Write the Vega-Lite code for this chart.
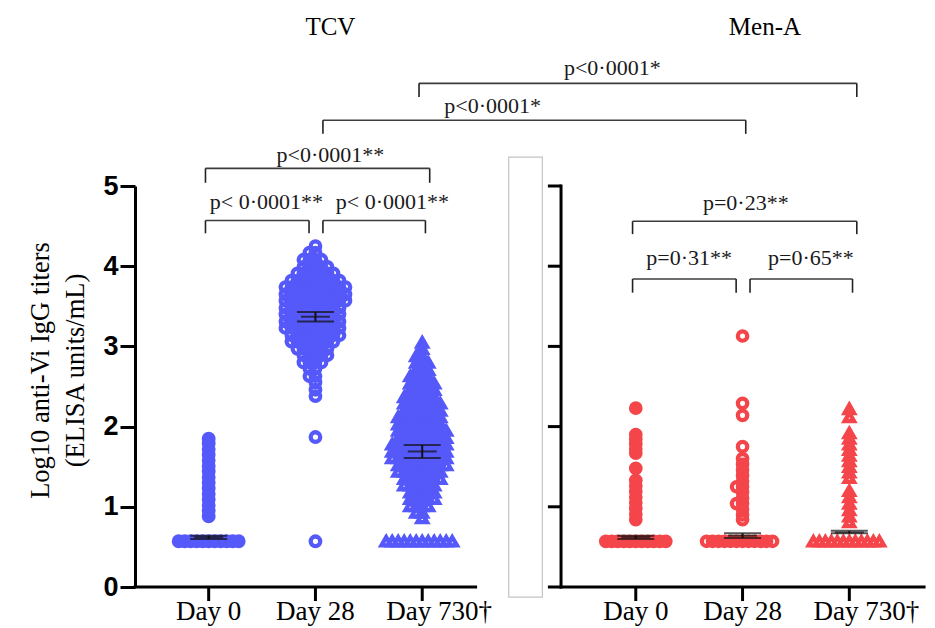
{
"$schema": "https://vega.github.io/schema/vega-lite/v6.json",
"autosize": {"type": "none"},
"padding": {"left": 135, "top": 186, "right": 12, "bottom": 41},
"width": 788,
"height": 401,
"background": "white",
"config": {"view": {"stroke": null}, "axis": {"grid": false}},
"datasets": {
"one": [{}],
"cats": [{"c":"T0"},{"c":"T28"},{"c":"T730"},{"c":"M0"},{"c":"M28"},{"c":"M730"}],
"pts": [
{"c":"T0","v":0.57},{"c":"T0","v":0.57},{"c":"T0","v":0.57},{"c":"T0","v":0.57},{"c":"T0","v":0.57},{"c":"T0","v":0.57},{"c":"T0","v":0.57},{"c":"T0","v":0.57},{"c":"T0","v":0.57},{"c":"T0","v":0.57},{"c":"T0","v":0.57},
{"c":"T0","v":0.88},{"c":"T0","v":0.95},{"c":"T0","v":1.02},{"c":"T0","v":1.09},{"c":"T0","v":1.16},{"c":"T0","v":1.23},{"c":"T0","v":1.3},{"c":"T0","v":1.37},{"c":"T0","v":1.44},{"c":"T0","v":1.51},{"c":"T0","v":1.58},{"c":"T0","v":1.65},{"c":"T0","v":1.72},{"c":"T0","v":1.79},{"c":"T0","v":1.85},
{"c":"T28","v":4.25},
{"c":"T28","v":4.17},{"c":"T28","v":4.17},
{"c":"T28","v":4.08},{"c":"T28","v":4.08},{"c":"T28","v":4.08},{"c":"T28","v":4.08},
{"c":"T28","v":3.99},{"c":"T28","v":3.99},{"c":"T28","v":3.99},{"c":"T28","v":3.99},{"c":"T28","v":3.99},
{"c":"T28","v":3.91},{"c":"T28","v":3.91},{"c":"T28","v":3.91},{"c":"T28","v":3.91},{"c":"T28","v":3.91},{"c":"T28","v":3.91},{"c":"T28","v":3.91},
{"c":"T28","v":3.82},{"c":"T28","v":3.82},{"c":"T28","v":3.82},{"c":"T28","v":3.82},{"c":"T28","v":3.82},{"c":"T28","v":3.82},{"c":"T28","v":3.82},{"c":"T28","v":3.82},{"c":"T28","v":3.82},
{"c":"T28","v":3.74},{"c":"T28","v":3.74},{"c":"T28","v":3.74},{"c":"T28","v":3.74},{"c":"T28","v":3.74},{"c":"T28","v":3.74},{"c":"T28","v":3.74},{"c":"T28","v":3.74},{"c":"T28","v":3.74},{"c":"T28","v":3.74},{"c":"T28","v":3.74},
{"c":"T28","v":3.65},{"c":"T28","v":3.65},{"c":"T28","v":3.65},{"c":"T28","v":3.65},{"c":"T28","v":3.65},{"c":"T28","v":3.65},{"c":"T28","v":3.65},{"c":"T28","v":3.65},{"c":"T28","v":3.65},{"c":"T28","v":3.65},{"c":"T28","v":3.65},
{"c":"T28","v":3.57},{"c":"T28","v":3.57},{"c":"T28","v":3.57},{"c":"T28","v":3.57},{"c":"T28","v":3.57},{"c":"T28","v":3.57},{"c":"T28","v":3.57},{"c":"T28","v":3.57},{"c":"T28","v":3.57},{"c":"T28","v":3.57},{"c":"T28","v":3.57},
{"c":"T28","v":3.48},{"c":"T28","v":3.48},{"c":"T28","v":3.48},{"c":"T28","v":3.48},{"c":"T28","v":3.48},{"c":"T28","v":3.48},{"c":"T28","v":3.48},{"c":"T28","v":3.48},{"c":"T28","v":3.48},{"c":"T28","v":3.48},
{"c":"T28","v":3.4},{"c":"T28","v":3.4},{"c":"T28","v":3.4},{"c":"T28","v":3.4},{"c":"T28","v":3.4},{"c":"T28","v":3.4},{"c":"T28","v":3.4},{"c":"T28","v":3.4},{"c":"T28","v":3.4},{"c":"T28","v":3.4},
{"c":"T28","v":3.31},{"c":"T28","v":3.31},{"c":"T28","v":3.31},{"c":"T28","v":3.31},{"c":"T28","v":3.31},{"c":"T28","v":3.31},{"c":"T28","v":3.31},{"c":"T28","v":3.31},{"c":"T28","v":3.31},{"c":"T28","v":3.31},
{"c":"T28","v":3.23},{"c":"T28","v":3.23},{"c":"T28","v":3.23},{"c":"T28","v":3.23},{"c":"T28","v":3.23},{"c":"T28","v":3.23},{"c":"T28","v":3.23},{"c":"T28","v":3.23},{"c":"T28","v":3.23},{"c":"T28","v":3.23},
{"c":"T28","v":3.14},{"c":"T28","v":3.14},{"c":"T28","v":3.14},{"c":"T28","v":3.14},{"c":"T28","v":3.14},{"c":"T28","v":3.14},{"c":"T28","v":3.14},{"c":"T28","v":3.14},{"c":"T28","v":3.14},
{"c":"T28","v":3.06},{"c":"T28","v":3.06},{"c":"T28","v":3.06},{"c":"T28","v":3.06},{"c":"T28","v":3.06},{"c":"T28","v":3.06},{"c":"T28","v":3.06},{"c":"T28","v":3.06},
{"c":"T28","v":2.97},{"c":"T28","v":2.97},{"c":"T28","v":2.97},{"c":"T28","v":2.97},{"c":"T28","v":2.97},{"c":"T28","v":2.97},
{"c":"T28","v":2.89},{"c":"T28","v":2.89},{"c":"T28","v":2.89},{"c":"T28","v":2.89},{"c":"T28","v":2.89},
{"c":"T28","v":2.8},{"c":"T28","v":2.8},{"c":"T28","v":2.8},{"c":"T28","v":2.8},
{"c":"T28","v":2.72},{"c":"T28","v":2.72},
{"c":"T28","v":2.63},{"c":"T28","v":2.63},
{"c":"T28","v":2.55},{"c":"T28","v":2.46},{"c":"T28","v":2.38},{"c":"T28","v":1.87},{"c":"T28","v":0.57},
{"c":"T730","v":3.05},
{"c":"T730","v":2.97},
{"c":"T730","v":2.88},{"c":"T730","v":2.88},
{"c":"T730","v":2.8},{"c":"T730","v":2.8},{"c":"T730","v":2.8},
{"c":"T730","v":2.71},{"c":"T730","v":2.71},{"c":"T730","v":2.71},
{"c":"T730","v":2.63},{"c":"T730","v":2.63},{"c":"T730","v":2.63},{"c":"T730","v":2.63},
{"c":"T730","v":2.54},{"c":"T730","v":2.54},{"c":"T730","v":2.54},{"c":"T730","v":2.54},{"c":"T730","v":2.54},
{"c":"T730","v":2.46},{"c":"T730","v":2.46},{"c":"T730","v":2.46},{"c":"T730","v":2.46},{"c":"T730","v":2.46},
{"c":"T730","v":2.37},{"c":"T730","v":2.37},{"c":"T730","v":2.37},{"c":"T730","v":2.37},{"c":"T730","v":2.37},{"c":"T730","v":2.37},
{"c":"T730","v":2.29},{"c":"T730","v":2.29},{"c":"T730","v":2.29},{"c":"T730","v":2.29},{"c":"T730","v":2.29},{"c":"T730","v":2.29},{"c":"T730","v":2.29},
{"c":"T730","v":2.2},{"c":"T730","v":2.2},{"c":"T730","v":2.2},{"c":"T730","v":2.2},{"c":"T730","v":2.2},{"c":"T730","v":2.2},{"c":"T730","v":2.2},
{"c":"T730","v":2.12},{"c":"T730","v":2.12},{"c":"T730","v":2.12},{"c":"T730","v":2.12},{"c":"T730","v":2.12},{"c":"T730","v":2.12},{"c":"T730","v":2.12},{"c":"T730","v":2.12},
{"c":"T730","v":2.03},{"c":"T730","v":2.03},{"c":"T730","v":2.03},{"c":"T730","v":2.03},{"c":"T730","v":2.03},{"c":"T730","v":2.03},{"c":"T730","v":2.03},{"c":"T730","v":2.03},
{"c":"T730","v":1.95},{"c":"T730","v":1.95},{"c":"T730","v":1.95},{"c":"T730","v":1.95},{"c":"T730","v":1.95},{"c":"T730","v":1.95},{"c":"T730","v":1.95},{"c":"T730","v":1.95},{"c":"T730","v":1.95},
{"c":"T730","v":1.86},{"c":"T730","v":1.86},{"c":"T730","v":1.86},{"c":"T730","v":1.86},{"c":"T730","v":1.86},{"c":"T730","v":1.86},{"c":"T730","v":1.86},{"c":"T730","v":1.86},{"c":"T730","v":1.86},
{"c":"T730","v":1.78},{"c":"T730","v":1.78},{"c":"T730","v":1.78},{"c":"T730","v":1.78},{"c":"T730","v":1.78},{"c":"T730","v":1.78},{"c":"T730","v":1.78},{"c":"T730","v":1.78},{"c":"T730","v":1.78},{"c":"T730","v":1.78},
{"c":"T730","v":1.69},{"c":"T730","v":1.69},{"c":"T730","v":1.69},{"c":"T730","v":1.69},{"c":"T730","v":1.69},{"c":"T730","v":1.69},{"c":"T730","v":1.69},{"c":"T730","v":1.69},{"c":"T730","v":1.69},{"c":"T730","v":1.69},
{"c":"T730","v":1.61},{"c":"T730","v":1.61},{"c":"T730","v":1.61},{"c":"T730","v":1.61},{"c":"T730","v":1.61},{"c":"T730","v":1.61},{"c":"T730","v":1.61},{"c":"T730","v":1.61},{"c":"T730","v":1.61},{"c":"T730","v":1.61},
{"c":"T730","v":1.52},{"c":"T730","v":1.52},{"c":"T730","v":1.52},{"c":"T730","v":1.52},{"c":"T730","v":1.52},{"c":"T730","v":1.52},{"c":"T730","v":1.52},{"c":"T730","v":1.52},{"c":"T730","v":1.52},
{"c":"T730","v":1.44},{"c":"T730","v":1.44},{"c":"T730","v":1.44},{"c":"T730","v":1.44},{"c":"T730","v":1.44},{"c":"T730","v":1.44},{"c":"T730","v":1.44},{"c":"T730","v":1.44},
{"c":"T730","v":1.35},{"c":"T730","v":1.35},{"c":"T730","v":1.35},{"c":"T730","v":1.35},{"c":"T730","v":1.35},{"c":"T730","v":1.35},{"c":"T730","v":1.35},
{"c":"T730","v":1.27},{"c":"T730","v":1.27},{"c":"T730","v":1.27},{"c":"T730","v":1.27},{"c":"T730","v":1.27},{"c":"T730","v":1.27},
{"c":"T730","v":1.18},{"c":"T730","v":1.18},{"c":"T730","v":1.18},{"c":"T730","v":1.18},{"c":"T730","v":1.18},
{"c":"T730","v":1.1},{"c":"T730","v":1.1},{"c":"T730","v":1.1},{"c":"T730","v":1.1},{"c":"T730","v":1.1},
{"c":"T730","v":1.01},{"c":"T730","v":1.01},{"c":"T730","v":1.01},{"c":"T730","v":1.01},
{"c":"T730","v":0.93},{"c":"T730","v":0.93},
{"c":"T730","v":0.86},
{"c":"T730","v":0.57},{"c":"T730","v":0.57},{"c":"T730","v":0.57},{"c":"T730","v":0.57},{"c":"T730","v":0.57},{"c":"T730","v":0.57},{"c":"T730","v":0.57},{"c":"T730","v":0.57},{"c":"T730","v":0.57},{"c":"T730","v":0.57},{"c":"T730","v":0.57},{"c":"T730","v":0.57},
{"c":"M0","v":0.57},{"c":"M0","v":0.57},{"c":"M0","v":0.57},{"c":"M0","v":0.57},{"c":"M0","v":0.57},{"c":"M0","v":0.57},{"c":"M0","v":0.57},{"c":"M0","v":0.57},{"c":"M0","v":0.57},{"c":"M0","v":0.57},{"c":"M0","v":0.57},
{"c":"M0","v":2.23},{"c":"M0","v":1.9},{"c":"M0","v":1.84},{"c":"M0","v":1.78},{"c":"M0","v":1.72},{"c":"M0","v":1.67},{"c":"M0","v":1.48},{"c":"M0","v":1.33},{"c":"M0","v":1.26},{"c":"M0","v":1.19},{"c":"M0","v":1.12},{"c":"M0","v":1.05},{"c":"M0","v":0.98},{"c":"M0","v":0.91},{"c":"M0","v":0.84},
{"c":"M28","v":0.57},{"c":"M28","v":0.57},{"c":"M28","v":0.57},{"c":"M28","v":0.57},{"c":"M28","v":0.57},{"c":"M28","v":0.57},{"c":"M28","v":0.57},{"c":"M28","v":0.57},{"c":"M28","v":0.57},{"c":"M28","v":0.57},{"c":"M28","v":0.57},{"c":"M28","v":0.57},
{"c":"M28","v":3.13},{"c":"M28","v":2.29},{"c":"M28","v":2.14},{"c":"M28","v":1.75},{"c":"M28","v":1.6},{"c":"M28","v":1.53},{"c":"M28","v":1.46},{"c":"M28","v":1.39},{"c":"M28","v":1.32},{"c":"M28","v":1.25},{"c":"M28","v":1.25},{"c":"M28","v":1.18},{"c":"M28","v":1.11},{"c":"M28","v":1.04},{"c":"M28","v":1.04},{"c":"M28","v":0.97},{"c":"M28","v":0.9},{"c":"M28","v":0.84},
{"c":"M730","v":0.57},{"c":"M730","v":0.57},{"c":"M730","v":0.57},{"c":"M730","v":0.57},{"c":"M730","v":0.57},{"c":"M730","v":0.57},{"c":"M730","v":0.57},{"c":"M730","v":0.57},{"c":"M730","v":0.57},{"c":"M730","v":0.57},{"c":"M730","v":0.57},{"c":"M730","v":0.57},
{"c":"M730","v":2.22},{"c":"M730","v":2.12},{"c":"M730","v":1.92},{"c":"M730","v":1.85},{"c":"M730","v":1.78},{"c":"M730","v":1.71},{"c":"M730","v":1.64},{"c":"M730","v":1.57},{"c":"M730","v":1.5},{"c":"M730","v":1.43},{"c":"M730","v":1.36},{"c":"M730","v":1.2},{"c":"M730","v":1.12},{"c":"M730","v":1.04},{"c":"M730","v":0.96},{"c":"M730","v":0.88},{"c":"M730","v":0.81}
],
"sum": [
{"c":"T0","k":"lo","v":0.6},{"c":"T0","k":"m","v":0.62},{"c":"T0","k":"hi","v":0.64},
{"c":"T28","k":"lo","v":3.31},{"c":"T28","k":"m","v":3.37},{"c":"T28","k":"hi","v":3.43},
{"c":"T730","k":"lo","v":1.61},{"c":"T730","k":"m","v":1.69},{"c":"T730","k":"hi","v":1.77},
{"c":"M0","k":"lo","v":0.6},{"c":"M0","k":"m","v":0.62},{"c":"M0","k":"hi","v":0.64},
{"c":"M28","k":"lo","v":0.61},{"c":"M28","k":"m","v":0.64},{"c":"M28","k":"hi","v":0.67},
{"c":"M730","k":"lo","v":0.67},{"c":"M730","k":"m","v":0.68},{"c":"M730","k":"hi","v":0.7}
],
"brk": [
{"g":"A","from":"T730","to":"M730","v":6.28,"tb":6.11},
{"g":"A","from":"T0","to":"T730","v":5.22,"tb":5.04},
{"g":"A","from":"M0","to":"M730","v":4.56,"tb":4.4},
{"g":"B","from":"T0","to":"T28","v":4.57,"tb":4.41},
{"g":"B","from":"M0","to":"M28","v":3.84,"tb":3.67},
{"g":"C","from":"T28","to":"M28","v":5.82,"tb":5.65},
{"g":"C","from":"T28","to":"T730","v":4.57,"tb":4.41},
{"g":"C","from":"M28","to":"M730","v":3.84,"tb":3.67}
],
"rt": [{"t":0},{"t":1},{"t":2},{"t":3},{"t":4},{"t":5}]
},
"layer": [
{"data": {"name": "one"},
 "mark": {"type": "rect", "fill": "white", "stroke": "#c4c4c4", "strokeWidth": 1.2},
 "encoding": {"x": {"datum": "gap", "type": "nominal", "bandPosition": 0.31}, "x2": {"datum": "gap", "bandPosition": 0.625}, "y": {"datum": -0.125, "type": "quantitative"}, "y2": {"datum": 5.36}}},
{"data": {"name": "one"},
 "mark": {"type": "rule", "color": "black", "strokeWidth": 3, "strokeCap": "square"},
 "encoding": {"x": {"datum": "T0", "type": "nominal", "bandPosition": -0.19}, "x2": {"datum": "T730", "bandPosition": 1.0}, "y": {"datum": 0, "type": "quantitative"}}},
{"data": {"name": "one"},
 "mark": {"type": "rule", "color": "black", "strokeWidth": 3, "strokeCap": "square"},
 "encoding": {"x": {"datum": "gap", "type": "nominal", "bandPosition": 0.8}, "x2": {"datum": "M730", "bandPosition": 1.2}, "y": {"datum": 0, "type": "quantitative"}}},
{"data": {"name": "one"},
 "mark": {"type": "rule", "color": "black", "strokeWidth": 3, "strokeCap": "square"},
 "encoding": {"x": {"datum": "gap", "type": "nominal", "bandPosition": 0.8}, "y": {"datum": 0, "type": "quantitative"}, "y2": {"datum": 5}}},
{"data": {"name": "rt"},
 "mark": {"type": "rule", "color": "black", "strokeWidth": 3},
 "encoding": {"x": {"datum": "gap", "type": "nominal", "bandPosition": 0.677}, "x2": {"datum": "gap", "bandPosition": 0.8}, "y": {"field": "t", "type": "quantitative"}}},
{"data": {"name": "cats"},
 "mark": {"type": "rule", "color": "black", "strokeWidth": 3},
 "encoding": {"x": {"field": "c", "type": "nominal"}, "y": {"datum": 0, "type": "quantitative"}, "y2": {"datum": -0.175}}},
{"data": {"name": "pts"},
 "transform": [{"window": [{"op": "row_number", "as": "r"}], "groupby": ["c", "v"]}, {"filter": "datum.r % 2 == 1"}],
 "mark": {"type": "point", "strokeWidth": 4.3, "opacity": 1},
 "encoding": {
  "x": {"field": "c", "type": "nominal", "title": null,
   "scale": {"type": "band", "domain": ["T0", "T28", "T730", "gap", "M0", "M28", "M730"], "paddingInner": 0, "paddingOuter": 0.19},
   "axis": {"values": ["T0", "T28", "T730", "M0", "M28", "M730"], "domain": false, "ticks": false, "bandPosition": 0.5, "labelFont": "Liberation Serif", "labelFontSize": 27, "labelColor": "black", "labelPadding": 24, "labelAngle": 0, "labelAlign": "center", "labelOverlap": false, "title": null,
    "labelOffset": {"condition": {"test": "datum.value == 'T730' || datum.value == 'M730'", "value": 17}, "value": 0},
    "labelExpr": "(datum.value == 'T730' || datum.value == 'M730') ? 'Day 730†' : ((datum.value == 'T28' || datum.value == 'M28') ? 'Day 28' : 'Day 0')"}},
  "xOffset": {"field": "r", "type": "quantitative", "scale": {"domain": [1, 41], "range": [53.39, 173.39], "zero": false, "nice": false}},
  "y": {"field": "v", "type": "quantitative", "scale": {"domain": [0, 5], "nice": false},
   "axis": {"values": [0, 1, 2, 3, 4, 5], "format": "d", "title": ["Log10 anti-Vi IgG titers", "(ELISA units/mL)"], "domain": true, "domainWidth": 3, "domainColor": "black", "tickSize": 15, "tickWidth": 3, "tickColor": "black", "labelFont": "Liberation Sans", "labelFontWeight": "bold", "labelFontSize": 27, "labelColor": "black", "labelPadding": 2, "titleFont": "Liberation Serif", "titleFontSize": 26.5, "titleFontWeight": "normal", "titleColor": "black", "titleLineHeight": 35, "titleX": -95, "titleY": 184, "titleBaseline": "middle", "titleAlign": "center", "titleAngle": -90}},
  "size": {"field": "c", "type": "nominal", "legend": null, "scale": {"domain": ["T0", "T28", "T730", "M0", "M28", "M730"], "range": [92, 87, 150, 92, 87, 150]}},
  "shape": {"field": "c", "type": "nominal", "legend": null, "scale": {"domain": ["T0", "T28", "T730", "M0", "M28", "M730"], "range": ["circle", "circle", "triangle-up", "circle", "circle", "triangle-up"]}},
  "stroke": {"field": "c", "type": "nominal", "legend": null, "scale": {"domain": ["T0", "T28", "T730", "M0", "M28", "M730"], "range": ["#5659F9", "#5659F9", "#5659F9", "#F4464A", "#F4464A", "#F4464A"]}},
  "fill": {"field": "c", "type": "nominal", "legend": null, "scale": {"domain": ["T0", "T28", "T730", "M0", "M28", "M730"], "range": ["#5659F9", "rgba(255,255,255,0)", "rgba(255,255,255,0)", "#F4464A", "rgba(255,255,255,0)", "rgba(255,255,255,0)"]}}
 }},
{"data": {"name": "pts"},
 "transform": [{"window": [{"op": "row_number", "as": "r"}], "groupby": ["c", "v"]}, {"filter": "datum.r % 2 == 0"}],
 "mark": {"type": "point", "strokeWidth": 4.3, "opacity": 1},
 "encoding": {
  "x": {"field": "c", "type": "nominal"},
  "xOffset": {"field": "r", "type": "quantitative", "scale": {"domain": [0, 40], "range": [53.39, -66.61], "zero": false, "nice": false}},
  "y": {"field": "v", "type": "quantitative"},
  "size": {"field": "c", "type": "nominal", "legend": null},
  "shape": {"field": "c", "type": "nominal", "legend": null},
  "stroke": {"field": "c", "type": "nominal", "legend": null},
  "fill": {"field": "c", "type": "nominal", "legend": null}
 }},
{"data": {"name": "sum"},
 "mark": {"type": "rule", "color": "#111111", "strokeWidth": 2},
 "encoding": {"x": {"field": "c", "type": "nominal"}, "y": {"aggregate": "min", "field": "v", "type": "quantitative"}, "y2": {"aggregate": "max", "field": "v"}}},
{"data": {"name": "sum"},
 "transform": [{"filter": "datum.k != 'm'"}],
 "mark": {"type": "tick", "color": "#111111", "size": 37, "thickness": 2},
 "encoding": {"x": {"field": "c", "type": "nominal"}, "y": {"field": "v", "type": "quantitative"}}},
{"data": {"name": "sum"},
 "transform": [{"filter": "datum.k == 'm'"}],
 "mark": {"type": "tick", "color": "#111111", "size": 29, "thickness": 2},
 "encoding": {"x": {"field": "c", "type": "nominal"}, "y": {"field": "v", "type": "quantitative"}}},
{"data": {"name": "brk"}, "transform": [{"filter": "datum.g == 'A'"}],
 "mark": {"type": "rule", "color": "#3c3c3c", "strokeWidth": 1.6},
 "encoding": {"x": {"field": "from", "type": "nominal", "bandPosition": 0.47}, "x2": {"field": "to", "bandPosition": 0.57}, "y": {"field": "v", "type": "quantitative"}}},
{"data": {"name": "brk"}, "transform": [{"filter": "datum.g == 'A'"}],
 "mark": {"type": "rule", "color": "#222222", "strokeWidth": 1.6},
 "encoding": {"x": {"field": "from", "type": "nominal", "bandPosition": 0.47}, "y": {"field": "v", "type": "quantitative"}, "y2": {"field": "tb"}}},
{"data": {"name": "brk"}, "transform": [{"filter": "datum.g == 'A'"}],
 "mark": {"type": "rule", "color": "#222222", "strokeWidth": 1.6},
 "encoding": {"x": {"field": "to", "type": "nominal", "bandPosition": 0.57}, "y": {"field": "v", "type": "quantitative"}, "y2": {"field": "tb"}}},
{"data": {"name": "brk"}, "transform": [{"filter": "datum.g == 'B'"}],
 "mark": {"type": "rule", "color": "#3c3c3c", "strokeWidth": 1.6},
 "encoding": {"x": {"field": "from", "type": "nominal", "bandPosition": 0.47}, "x2": {"field": "to", "bandPosition": 0.44}, "y": {"field": "v", "type": "quantitative"}}},
{"data": {"name": "brk"}, "transform": [{"filter": "datum.g == 'B'"}],
 "mark": {"type": "rule", "color": "#222222", "strokeWidth": 1.6},
 "encoding": {"x": {"field": "from", "type": "nominal", "bandPosition": 0.47}, "y": {"field": "v", "type": "quantitative"}, "y2": {"field": "tb"}}},
{"data": {"name": "brk"}, "transform": [{"filter": "datum.g == 'B'"}],
 "mark": {"type": "rule", "color": "#222222", "strokeWidth": 1.6},
 "encoding": {"x": {"field": "to", "type": "nominal", "bandPosition": 0.44}, "y": {"field": "v", "type": "quantitative"}, "y2": {"field": "tb"}}},
{"data": {"name": "brk"}, "transform": [{"filter": "datum.g == 'C'"}],
 "mark": {"type": "rule", "color": "#3c3c3c", "strokeWidth": 1.6},
 "encoding": {"x": {"field": "from", "type": "nominal", "bandPosition": 0.57}, "x2": {"field": "to", "bandPosition": 0.53}, "y": {"field": "v", "type": "quantitative"}}},
{"data": {"name": "brk"}, "transform": [{"filter": "datum.g == 'C'"}],
 "mark": {"type": "rule", "color": "#222222", "strokeWidth": 1.6},
 "encoding": {"x": {"field": "from", "type": "nominal", "bandPosition": 0.57}, "y": {"field": "v", "type": "quantitative"}, "y2": {"field": "tb"}}},
{"data": {"name": "brk"}, "transform": [{"filter": "datum.g == 'C'"}],
 "mark": {"type": "rule", "color": "#222222", "strokeWidth": 1.6},
 "encoding": {"x": {"field": "to", "type": "nominal", "bandPosition": 0.53}, "y": {"field": "v", "type": "quantitative"}, "y2": {"field": "tb"}}},
{"data": {"name": "one"},
 "mark": {"type": "text", "font": "Liberation Serif", "fontSize": 25, "color": "black", "baseline": "alphabetic", "align": "center"},
 "encoding": {"x": {"datum": "T28", "type": "nominal", "bandPosition": 0.64}, "y": {"datum": 6.88, "type": "quantitative"}, "text": {"value": "TCV"}}},
{"data": {"name": "one"},
 "mark": {"type": "text", "font": "Liberation Serif", "fontSize": 25, "color": "black", "baseline": "alphabetic", "align": "center"},
 "encoding": {"x": {"datum": "M28", "type": "nominal", "bandPosition": 0.71}, "y": {"datum": 6.88, "type": "quantitative"}, "text": {"value": "Men-A"}}},
{"data": {"name": "one"},
 "mark": {"type": "text", "font": "Liberation Serif", "fontSize": 22, "color": "#1a1a1a", "baseline": "alphabetic", "align": "center"},
 "encoding": {"x": {"datum": "M0", "type": "nominal", "bandPosition": 0.28}, "y": {"datum": 6.38, "type": "quantitative"}, "text": {"value": "p<0·0001*"}}},
{"data": {"name": "one"},
 "mark": {"type": "text", "font": "Liberation Serif", "fontSize": 22, "color": "#1a1a1a", "baseline": "alphabetic", "align": "center"},
 "encoding": {"x": {"datum": "gap", "type": "nominal", "bandPosition": 0.16}, "y": {"datum": 5.91, "type": "quantitative"}, "text": {"value": "p<0·0001*"}}},
{"data": {"name": "one"},
 "mark": {"type": "text", "font": "Liberation Serif", "fontSize": 22, "color": "#1a1a1a", "baseline": "alphabetic", "align": "center"},
 "encoding": {"x": {"datum": "T28", "type": "nominal", "bandPosition": 0.64}, "y": {"datum": 5.3, "type": "quantitative"}, "text": {"value": "p<0·0001**"}}},
{"data": {"name": "one"},
 "mark": {"type": "text", "font": "Liberation Serif", "fontSize": 22, "color": "#1a1a1a", "baseline": "alphabetic", "align": "center"},
 "encoding": {"x": {"datum": "T28", "type": "nominal", "bandPosition": 0.04}, "y": {"datum": 4.71, "type": "quantitative"}, "text": {"value": "p< 0·0001**"}}},
{"data": {"name": "one"},
 "mark": {"type": "text", "font": "Liberation Serif", "fontSize": 22, "color": "#1a1a1a", "baseline": "alphabetic", "align": "center"},
 "encoding": {"x": {"datum": "T730", "type": "nominal", "bandPosition": 0.22}, "y": {"datum": 4.71, "type": "quantitative"}, "text": {"value": "p< 0·0001**"}}},
{"data": {"name": "one"},
 "mark": {"type": "text", "font": "Liberation Serif", "fontSize": 22, "color": "#1a1a1a", "baseline": "alphabetic", "align": "center"},
 "encoding": {"x": {"datum": "M28", "type": "nominal", "bandPosition": 0.53}, "y": {"datum": 4.7, "type": "quantitative"}, "text": {"value": "p=0·23**"}}},
{"data": {"name": "one"},
 "mark": {"type": "text", "font": "Liberation Serif", "fontSize": 22, "color": "#1a1a1a", "baseline": "alphabetic", "align": "center"},
 "encoding": {"x": {"datum": "M28", "type": "nominal", "bandPosition": 0.0}, "y": {"datum": 4.01, "type": "quantitative"}, "text": {"value": "p=0·31**"}}},
{"data": {"name": "one"},
 "mark": {"type": "text", "font": "Liberation Serif", "fontSize": 22, "color": "#1a1a1a", "baseline": "alphabetic", "align": "center"},
 "encoding": {"x": {"datum": "M730", "type": "nominal", "bandPosition": 0.14}, "y": {"datum": 4.01, "type": "quantitative"}, "text": {"value": "p=0·65**"}}}
],
"resolve": {"scale": {"xOffset": "independent"}}
}
